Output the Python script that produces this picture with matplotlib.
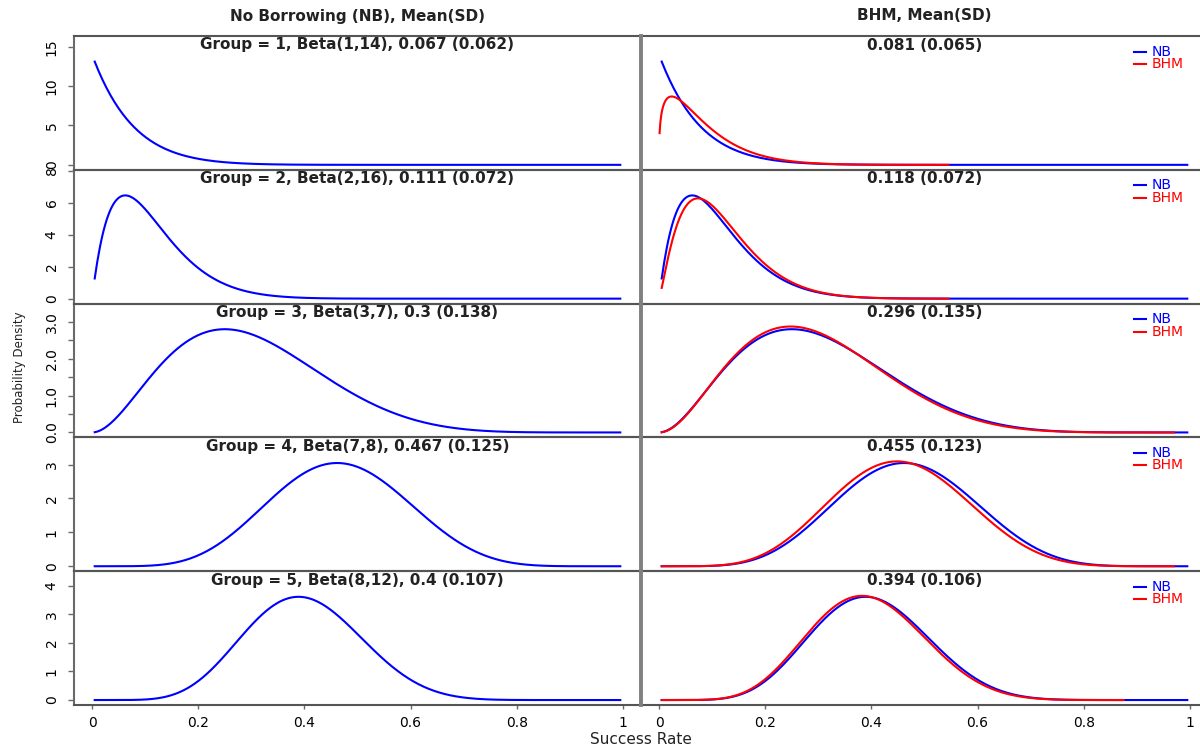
import math
import numpy as np
import matplotlib
matplotlib.use("Agg")
import matplotlib.pyplot as plt

# ---- data -------------------------------------------------------------
groups = [1, 2, 3, 4, 5]
nb_alpha = [1, 2, 3, 7, 8]
nb_beta = [14, 16, 7, 8, 12]
nb_mean = [0.067, 0.111, 0.3, 0.467, 0.4]
nb_sd = [0.062, 0.072, 0.138, 0.125, 0.107]
bhm_mean = [0.081, 0.118, 0.296, 0.455, 0.394]
bhm_sd = [0.065, 0.072, 0.135, 0.123, 0.106]
bhm_lo = [0.001, 0.005, 0.005, 0.005, 0.005]   # support of the BHM posterior draws
bhm_hi = [0.545, 0.545, 0.97, 0.97, 0.875]

x_ticks = [0, 0.2, 0.4, 0.6, 0.8, 1]
x_tick_labels = ["0", "0.2", "0.4", "0.6", "0.8", "1"]
y_ticks = [[0, 5, 10, 15], [0, 2, 4, 6, 8], [0, 0.5, 1, 1.5, 2, 2.5, 3],
           [0, 1, 2, 3], [0, 1, 2, 3, 4]]
y_tick_labels = [["0", "5", "10", "15"], ["0", "2", "4", "6", "8"],
                 ["0.0", "", "1.0", "", "2.0", "", "3.0"],
                 ["0", "1", "2", "3"], ["0", "1", "2", "3", "4"]]


def beta_pdf(x, a, b):
    lognorm = math.lgamma(a) + math.lgamma(b) - math.lgamma(a + b)
    return np.exp((a - 1) * np.log(x) + (b - 1) * np.log1p(-x) - lognorm)


def beta_from_moments(m, s):
    k = m * (1 - m) / s ** 2 - 1
    return m * k, (1 - m) * k


# ---- layout (pixels of a 1200 x 748 canvas) ---------------------------
W, H = 1200, 748
fig = plt.figure(figsize=(W / 100, H / 100), dpi=100)
plt.rcParams["font.family"] = ["DejaVu Sans"]

top_px, bottom_px = 36, 705
row_h = (bottom_px - top_px) / 5
left_x0, right_x0, panel_w = 74, 641, 567

xlim = (-0.034, 1.034)
frame_col = "#555555"
BLUE, RED = "#0000ff", "#ff0000"

x_nb = np.linspace(0.005, 0.995, 400)

for i in range(5):
    y0 = top_px + i * row_h
    b = 1 - (y0 + row_h) / H
    axL = fig.add_axes([left_x0 / W, b, panel_w / W, row_h / H])
    axR = fig.add_axes([right_x0 / W, b, panel_w / W, row_h / H])

    nb = beta_pdf(x_nb, nb_alpha[i], nb_beta[i])
    ab, bb = beta_from_moments(bhm_mean[i], bhm_sd[i])
    x_b = np.linspace(bhm_lo[i], bhm_hi[i], 400)
    bhm = beta_pdf(x_b, ab, bb)

    d = 1.2 * nb.max()
    ylim = (-0.04 * d, 1.04 * d)

    axL.plot(x_nb, nb, color=BLUE, lw=1.5)
    axR.plot(x_nb, nb, color=BLUE, lw=1.5)
    axR.plot(x_b, bhm, color=RED, lw=1.5)

    for ax in (axL, axR):
        ax.set_xlim(*xlim)
        ax.set_ylim(*ylim)
        ax.set_facecolor("none")
        for side in ("top", "bottom"):
            ax.spines[side].set_color(frame_col)
            ax.spines[side].set_linewidth(1.5)
        ax.spines["right"].set_visible(False)

    axL.spines["left"].set_color("#6a6a6a")
    axL.spines["left"].set_linewidth(1.5)
    axR.spines["left"].set_color("#808080")
    axR.spines["left"].set_linewidth(2.8)
    axR.spines["left"].set_zorder(5)

    # y axis on the left column only
    axL.set_yticks(y_ticks[i])
    axL.set_yticklabels(y_tick_labels[i])
    axL.tick_params(axis="y", direction="out", length=4, width=1,
                    color="#6a6a6a", labelsize=10, pad=7, labelrotation=90)
    for lab in axL.get_yticklabels():
        lab.set_va("center")
    axR.set_yticks([])

    # x axis on the bottom row only
    if i == 4:
        for ax in (axL, axR):
            ax.set_xticks(x_ticks)
            ax.set_xticklabels(x_tick_labels)
            ax.tick_params(axis="x", direction="out", length=3, width=1,
                           color="#6a6a6a", labelsize=10, pad=5)
    else:
        axL.set_xticks([])
        axR.set_xticks([])

    # panel titles
    ty = 1 - 9 / row_h
    axL.text(0.5, ty,
             f"Group = {groups[i]}, Beta({nb_alpha[i]},{nb_beta[i]}), "
             f"{nb_mean[i]} ({nb_sd[i]})",
             transform=axL.transAxes, ha="center", va="center",
             fontsize=11, fontweight="bold", color="#222222")
    axR.text(0.5, ty, f"{bhm_mean[i]} ({bhm_sd[i]})",
             transform=axR.transAxes, ha="center", va="center",
             fontsize=11, fontweight="bold", color="#222222")

    # legend
    lx0 = (1134 - right_x0) / panel_w
    lx1 = (1146 - right_x0) / panel_w
    tx = (1152 - right_x0) / panel_w
    for k, (lab, col) in enumerate((("NB", BLUE), ("BHM", RED))):
        yy = 1 - (15.5 + 12.5 * k) / row_h
        axR.plot([lx0, lx1], [yy, yy], color=col, lw=1.5,
                 transform=axR.transAxes, clip_on=False)
        axR.text(tx, yy, lab, color=col, fontsize=10,
                 transform=axR.transAxes, ha="left", va="center")

# column headers and axis titles
fig.text((left_x0 + panel_w / 2) / W, 1 - 16 / H, "No Borrowing (NB), Mean(SD)",
         ha="center", va="center", fontsize=11, fontweight="bold", color="#222222")
fig.text((right_x0 + panel_w / 2) / W, 1 - 16 / H, "BHM, Mean(SD)",
         ha="center", va="center", fontsize=11, fontweight="bold", color="#222222")
fig.text(641 / W, 1 - 740 / H, "Success Rate", ha="center", va="center",
         fontsize=11, color="#222222")
fig.text(20 / W, 1 - 367 / H, "Probability Density", ha="center", va="center",
         rotation=90, fontsize=8.5, color="#222222")

fig.savefig("out.png", dpi=100)
